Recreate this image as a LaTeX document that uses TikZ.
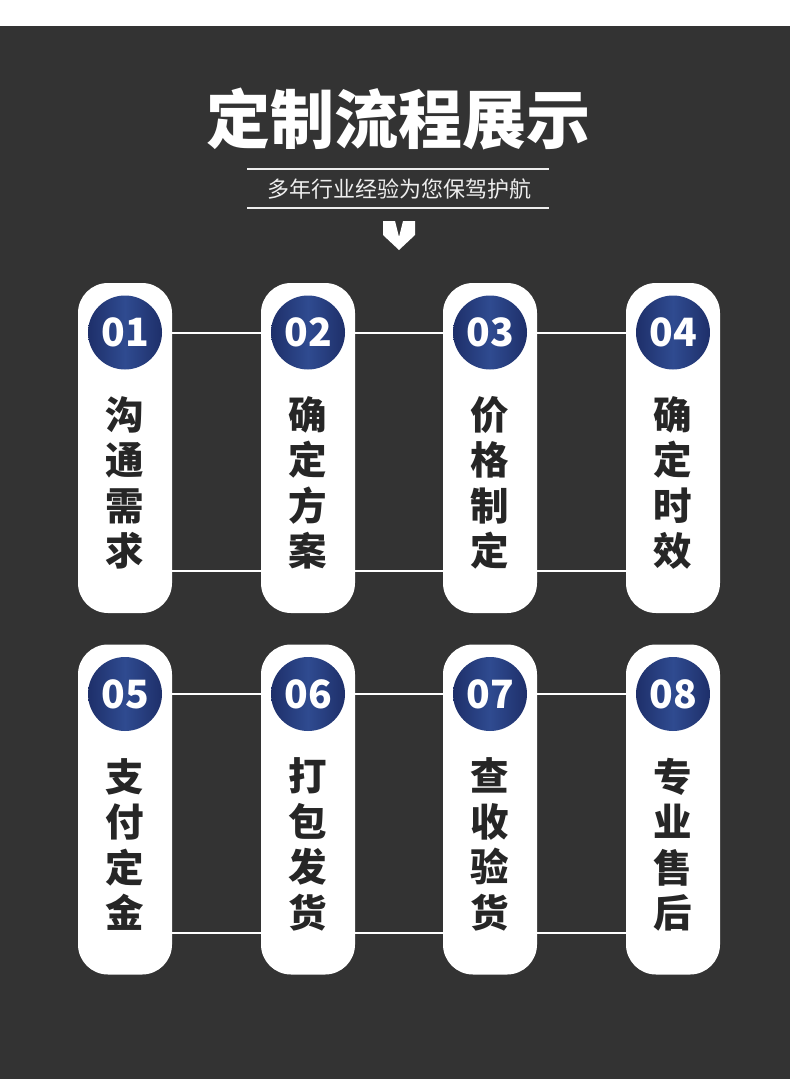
\documentclass[tikz,border=0pt]{standalone}
\usepackage{fontspec}
\newfontfamily\cjk{Noto Sans CJK SC}
\definecolor{bgdark}{HTML}{333333}
\definecolor{navyA}{HTML}{1E2F6A}
\definecolor{navyB}{HTML}{2F4B90}
\definecolor{subgray}{HTML}{EEEEEE}
\tikzset{
  card/.style={fill=white, minimum width=94pt, minimum height=330pt, rounded corners=30pt, inner sep=0pt},
  numdisc/.style={circle, minimum size=74pt, inner sep=0pt, left color=navyA, right color=navyA, middle color=navyB, text=white, font={\cjk\bfseries\fontsize{39}{39}\selectfont}},
  vtext/.style={align=center, inner sep=0pt, text=black!85, font={\cjk\bfseries\fontsize{38.5}{45.5}\selectfont}},
  link/.style={draw=white, line width=2pt},
}
\begin{document}
\begin{tikzpicture}[x=1pt,y=-1pt]
\useasboundingbox (0,0) rectangle (790,1090);
\fill[white] (0,0) rectangle (790,1090);
\fill[bgdark] (0,26) rectangle (790,1079);
% title
\node[text=white, font={\cjk\bfseries\fontsize{64}{64}\selectfont}, inner sep=0pt] (title) at (398,119) {定制流程展示};
\node[text=subgray, font={\cjk\fontsize{22}{24}\selectfont}, inner sep=0pt] (sub) at (399,189) {多年行业经验为您保驾护航};
\coordinate (l1a) at (247,169); \coordinate (l1b) at (549,169);
\coordinate (l2a) at (247,208); \coordinate (l2b) at (549,208);
\draw[subgray, line width=1.2pt] (l1a) -- (l1b);
\draw[subgray, line width=1.2pt] (l2a) -- (l2b);
\fill[white] (383,221) -- (395,221) -- (399,237) -- (403,221) -- (415,221) -- (415,235) -- (399,250) -- (383,235) -- cycle;
% cards
\foreach \i/\x/\y/\t in {1/125/448/{沟\\通\\需\\求}, 2/308/448/{确\\定\\方\\案}, 3/490/448/{价\\格\\制\\定}, 4/673/448/{确\\定\\时\\效},
                        5/125/809.5/{支\\付\\定\\金}, 6/308/809.5/{打\\包\\发\\货}, 7/490/809.5/{查\\收\\验\\货}, 8/673/809.5/{专\\业\\售\\后}}{
  \node[card] (c\i) at (\x,\y) {};
  \node[numdisc] (n\i) at (\x,\y-115.5) {0\i};
  \node[vtext] (t\i) at (\x,\y+35) {\t};
  \coordinate (b\i) at (\x,\y+123);
}
% connectors
\foreach \a/\b in {1/2,2/3,3/4,5/6,6/7,7/8}{
  \draw[link] (c\a.east |- n\a.center) -- (c\b.west |- n\b.center);
  \draw[link] (c\a.east |- b\a) -- (c\b.west |- b\b);
}
\end{tikzpicture}
\end{document}
